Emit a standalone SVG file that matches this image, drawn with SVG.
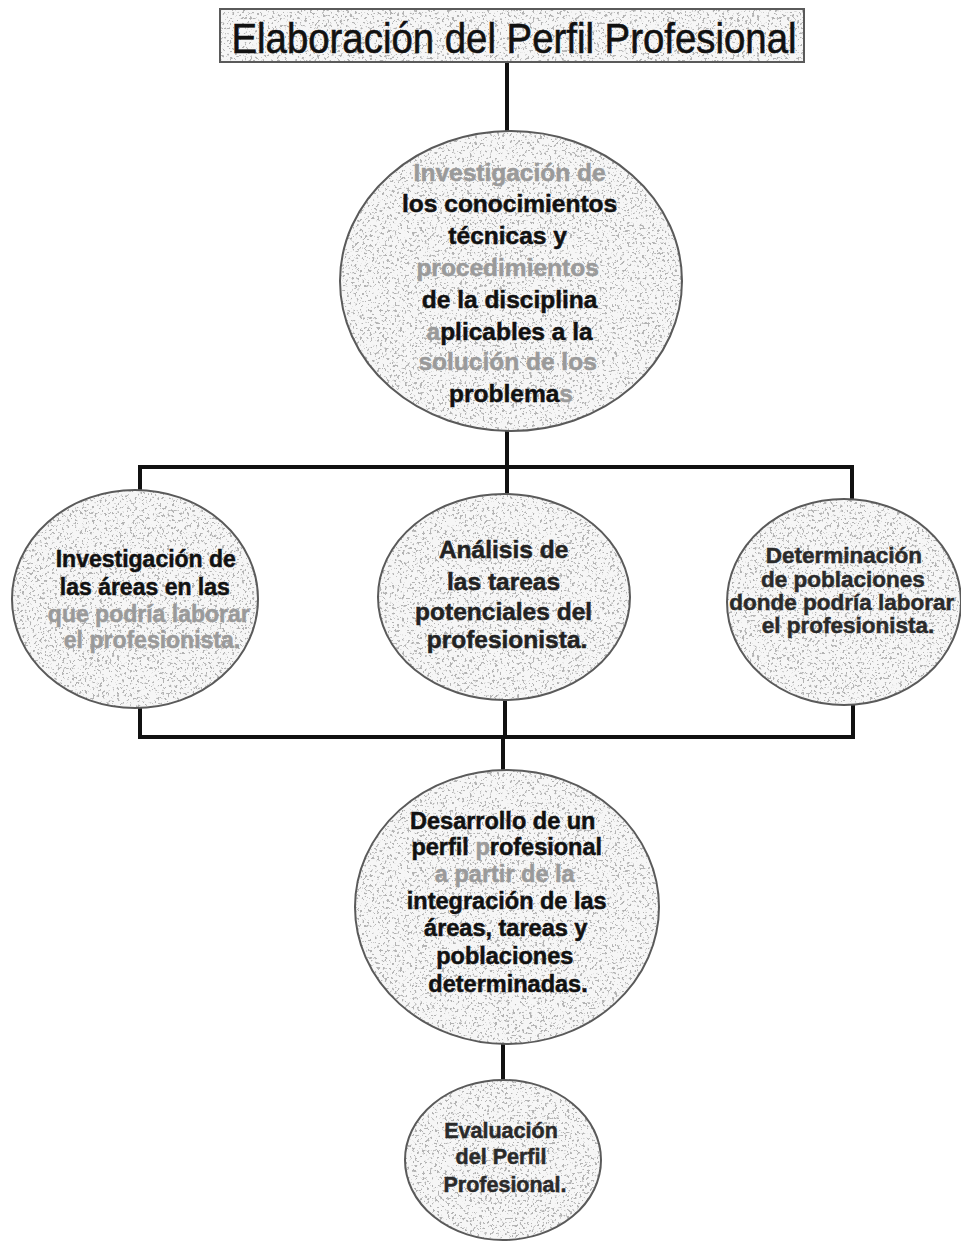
<svg xmlns="http://www.w3.org/2000/svg" width="961" height="1243" viewBox="0 0 961 1243">
<style>
.bg{fill:#ffffff}
.shape{fill:#f6f6f6;filter:url(#speck)}
.edge{fill:none;stroke:#5a5a5a;stroke-width:2}
.conn{fill:none;stroke:#111;stroke-width:4;stroke-linecap:square}
.t{font-family:"Liberation Sans",Arial,sans-serif;font-weight:bold;text-anchor:middle;fill:#111;stroke:#111;stroke-width:0.5}
.g{fill:#9a9a9a;stroke:#9a9a9a}
.title{font-family:"Liberation Sans",Arial,sans-serif;text-anchor:middle;fill:#111;stroke:#111;stroke-width:0.6}
</style>
<defs>
<filter id="speck" x="0" y="0" width="100%" height="100%">
<feTurbulence type="fractalNoise" baseFrequency="0.4" numOctaves="2" seed="7" result="n"/>
<feColorMatrix in="n" type="matrix" values="0 0 0 0 0.45  0 0 0 0 0.45  0 0 0 0 0.45  12 0 0 0 -7.0" result="s"/>
<feComposite in="s" in2="SourceGraphic" operator="in" result="c"/>
<feMerge><feMergeNode in="SourceGraphic"/><feMergeNode in="c"/></feMerge>
</filter>
</defs>
<rect class="bg" width="961" height="1243"/>

<g id="connectors">
<path class="conn" d="M507 62 V132"/>
<path class="conn" d="M507 430 V467 M140 467 H852 M140 467 V491 M507 467 V497 M852 467 V500"/>
<path class="conn" d="M140 707 V737 M505 700 V737 M853 704 V737 M140 737 H853 M503 737 V771"/>
<path class="conn" d="M503 1044 V1081"/>
</g>

<g id="title">
<rect class="shape" x="220" y="9" width="584" height="53"/>
<rect class="edge" x="220" y="9" width="584" height="53"/>
<text class="title" x="514" y="53" font-size="42" textLength="565" lengthAdjust="spacingAndGlyphs">Elaboración del Perfil Profesional</text>
</g>

<g id="n1">
<ellipse class="shape" cx="511" cy="281" rx="171" ry="150"/>
<ellipse class="edge" cx="511" cy="281" rx="171" ry="150"/>
<text class="t" font-size="24.5">
<tspan class="g" x="513" y="181">Investigación de</tspan>
<tspan x="513" y="212">los conocimientos</tspan>
<tspan x="511" y="244">técnicas y</tspan>
<tspan class="g" x="511" y="276">procedimientos</tspan>
<tspan x="513" y="308">de la disciplina</tspan>
<tspan x="513" y="340"><tspan class="g">a</tspan>plicables a la</tspan>
<tspan class="g" x="511" y="370">solución de los</tspan>
<tspan x="511" y="402">problema<tspan class="g">s</tspan></tspan>
</text>
</g>

<g id="n2">
<ellipse class="shape" cx="135" cy="599" rx="123" ry="109"/>
<ellipse class="edge" cx="135" cy="599" rx="123" ry="109"/>
<text class="t" font-size="23">
<tspan x="149" y="567">Investigación de</tspan>
<tspan x="148" y="595">las áreas en las</tspan>
<tspan class="g" x="152" y="622">que podría laborar</tspan>
<tspan class="g" x="152" y="648">el profesionista.</tspan>
</text>
</g>

<g id="n3">
<ellipse class="shape" cx="504" cy="597" rx="126" ry="103"/>
<ellipse class="edge" cx="504" cy="597" rx="126" ry="103"/>
<text class="t" font-size="24.5" style="fill:#222;stroke:#222">
<tspan x="507" y="558">Análisis de</tspan>
<tspan x="507" y="590">las tareas</tspan>
<tspan x="507" y="620">potenciales del</tspan>
<tspan x="507" y="648">profesionista.</tspan>
</text>
</g>

<g id="n4">
<ellipse class="shape" cx="844" cy="602" rx="117" ry="103"/>
<ellipse class="edge" cx="844" cy="602" rx="117" ry="103"/>
<text class="t" font-size="22.5" style="fill:#2a2a2a;stroke:#2a2a2a">
<tspan x="847" y="563">Determinación</tspan>
<tspan x="846" y="587">de poblaciones</tspan>
<tspan x="845" y="610">donde podría laborar</tspan>
<tspan x="848" y="633">el profesionista.</tspan>
</text>
</g>

<g id="n5">
<ellipse class="shape" cx="507" cy="907" rx="152" ry="137"/>
<ellipse class="edge" cx="507" cy="907" rx="152" ry="137"/>
<text class="t" font-size="23.5">
<tspan x="506" y="829">Desarrollo de un</tspan>
<tspan x="510" y="855">perfil <tspan class="g">p</tspan>rofesional</tspan>
<tspan class="g" x="508" y="882">a partir de la</tspan>
<tspan x="510" y="909">integración de las</tspan>
<tspan x="509" y="936">áreas, tareas y</tspan>
<tspan x="508" y="964">poblaciones</tspan>
<tspan x="508" y="992">determinadas.</tspan>
</text>
</g>

<g id="n6">
<ellipse class="shape" cx="503" cy="1160" rx="98" ry="80"/>
<ellipse class="edge" cx="503" cy="1160" rx="98" ry="80"/>
<text class="t" font-size="21.5" style="fill:#2a2a2a;stroke:#2a2a2a">
<tspan x="504" y="1138">Evaluación</tspan>
<tspan x="504" y="1164">del Perfil</tspan>
<tspan x="505" y="1192">Profesional.</tspan>
</text>
</g>
</svg>
